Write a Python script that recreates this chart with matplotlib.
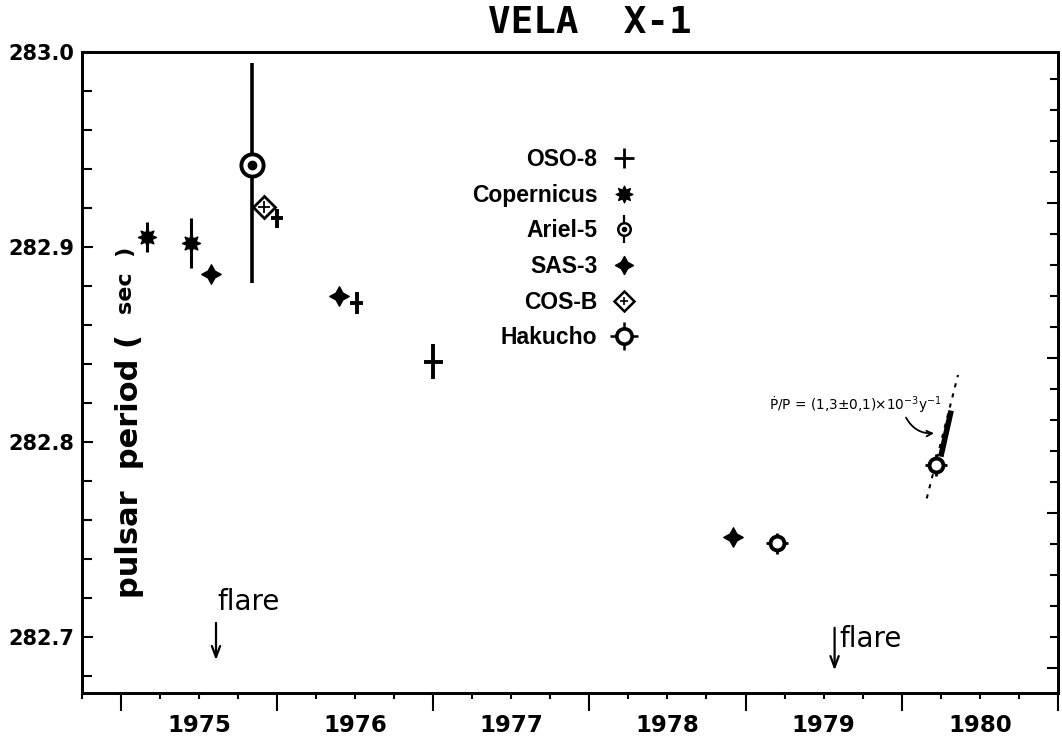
import numpy as np
import matplotlib.pyplot as plt
from matplotlib.lines import Line2D
from matplotlib.path import Path
from matplotlib.ticker import MultipleLocator

# --- data: epoch (yr) and pulse period (s) ---
oso8_t = [1976.00, 1976.51, 1977.00]
oso8_p = [282.9147, 282.8711, 282.8412]
oso8_dp = [0.0047, 0.0056, 0.0090]
oso8_dt = [0.037, 0.043, 0.061]

cop_t = [1975.17, 1975.45]
cop_p = [282.9053, 282.9019]
cop_dp = [0.0077, 0.0128]

ariel_t = [1975.84]
ariel_p = [282.9421]
ariel_lo = [0.0604]
ariel_hi = [0.0524]

sas3_t = [1975.58, 1976.40, 1978.92]
sas3_p = [282.8862, 282.8749, 282.7511]

cosb_t = [1975.92]
cosb_p = [282.9207]

hak_t = [1979.20, 1980.22]
hak_p = [282.7480, 282.7882]
hak_dp = [0.0056, 0.0056]
hak_dt = [0.07, 0.07]

# local spin-down, Pdot/P = 1.3e-3 /yr
slope_t = [1980.25, 1980.316]
slope_p = [282.7925, 282.8161]
range_t = [1980.16, 1980.36]
range_p = [282.7711, 282.8344]

flare_t = [1975.61, 1979.57]
flare_top = [282.7087, 282.7062]
flare_bot = [282.6867, 282.6815]

years = [1975, 1976, 1977, 1978, 1979, 1980]
labels = ['OSO-8', 'Copernicus', 'Ariel-5', 'SAS-3', 'COS-B', 'Hakucho']


def star_path(n, inner):
    ang = np.deg2rad(np.arange(2 * n) * 180.0 / n + 90)
    r = np.tile([1.0, inner], n)
    v = np.column_stack([r * np.cos(ang), r * np.sin(ang)])
    return Path(np.vstack([v, v[:1]]), closed=True)


sas_mk = star_path(4, 0.5)
cop_mk = star_path(8, 0.55)

fig = plt.figure(figsize=(10.62, 7.44), dpi=100)
ax = fig.add_axes([0.0769, 0.0685, 0.9193, 0.8616])
ax.set_xlim(1974.755, 1981.0)
ax.set_ylim(282.6713, 283.0)

k = 'black'
ax.errorbar(oso8_t, oso8_p, yerr=oso8_dp, xerr=oso8_dt, fmt='none',
            ecolor=k, elinewidth=2.8, capsize=0)
ax.errorbar(cop_t, cop_p, yerr=cop_dp, fmt='none', ecolor=k, elinewidth=2.2)
ax.plot(cop_t, cop_p, ls='none', marker=cop_mk, ms=13, color=k)
ax.errorbar(ariel_t, ariel_p, yerr=[ariel_lo, ariel_hi], fmt='none',
            ecolor=k, elinewidth=2.6)
ax.plot(ariel_t, ariel_p, ls='none', marker='o', ms=16, mfc='white', mec=k, mew=2.8)
ax.plot(ariel_t, ariel_p, ls='none', marker='o', ms=6, color=k)
ax.plot(sas3_t, sas3_p, ls='none', marker=sas_mk, ms=14, color=k)
ax.plot(cosb_t, cosb_p, ls='none', marker='D', ms=11, mfc='white', mec=k, mew=2)
ax.plot(cosb_t, cosb_p, ls='none', marker='+', ms=8, mec=k, mew=1.3)
ax.errorbar(hak_t, hak_p, yerr=hak_dp, xerr=hak_dt, fmt='none', ecolor=k, elinewidth=2)
ax.plot(hak_t, hak_p, ls='none', marker='o', ms=10, mfc='white', mec=k, mew=2.8, zorder=4)
ax.plot(slope_t, slope_p, color=k, lw=4, solid_capstyle='butt')
ax.plot(range_t, range_p, color=k, lw=1.5, ls=(0, (2, 3)))

ax.text(1979.70, 282.819, 'Ṗ/P = (1,3±0,1)×10$^{-3}$y$^{-1}$', ha='center',
        va='center', fontsize=9.8)
ax.annotate('', xy=(1980.224, 282.8046), xytext=(1980.019, 282.8138),
            arrowprops=dict(arrowstyle='->', lw=1.3, color=k,
                            connectionstyle='arc3,rad=0.35'))

for t, y0, y1 in zip(flare_t, flare_top, flare_bot):
    ax.annotate('', xy=(t, y1), xytext=(t, y0),
                arrowprops=dict(arrowstyle='->,head_length=0.8,head_width=0.3',
                                lw=1.6, color=k))
ax.text(flare_t[0] + 0.01, flare_top[0] + 0.0095, 'flare', fontsize=20,
        ha='left', va='center')
ax.text(flare_t[1] + 0.03, flare_top[1] - 0.0072, 'flare', fontsize=20,
        ha='left', va='center')

# in-axes y label
ax.text(0.0495, 0.148, 'pulsar  period (', transform=ax.transAxes, rotation=90,
        ha='center', va='bottom', fontsize=22, fontweight='bold')
ax.text(0.045, 0.591, 'sec  )', transform=ax.transAxes, rotation=90,
        ha='center', va='bottom', fontsize=16, fontweight='bold')

# legend: labels left, symbols right
handles = [
    Line2D([], [], ls='none', marker='+', ms=14, mew=2, color=k),
    Line2D([], [], ls='none', marker=cop_mk, ms=12, color=k),
    (Line2D([], [], ls='none', marker='|', ms=20, mew=1.6, color=k),
     Line2D([], [], ls='none', marker='o', ms=9, mfc='white', mec=k, mew=1.8),
     Line2D([], [], ls='none', marker='o', ms=3, color=k)),
    Line2D([], [], ls='none', marker=sas_mk, ms=13, color=k),
    (Line2D([], [], ls='none', marker='D', ms=10, mfc='white', mec=k, mew=1.8),
     Line2D([], [], ls='none', marker='+', ms=6, mec=k, mew=1.2)),
    (Line2D([], [], ls='none', marker='+', ms=20, mew=1.8, color=k),
     Line2D([], [], ls='none', marker='o', ms=11, mfc='white', mec=k, mew=2.6)),
]
ax.legend(handles, labels, loc='center', bbox_to_anchor=(0.485, 0.693),
          markerfirst=False, frameon=False, labelspacing=0.55,
          handlelength=1.3, handletextpad=0.5, borderpad=0,
          prop=dict(family='Liberation Sans', weight='bold', size=16.5))

# axes styling
for s in ax.spines.values():
    s.set_linewidth(2)
ax.set_yticks([282.7, 282.8, 282.9, 283.0],
              labels=['282.7', '282.8', '282.9', '283.0'],
              fontsize=15, fontweight='bold')
ax.yaxis.set_minor_locator(MultipleLocator(0.02))
ax.tick_params(axis='y', which='major', direction='in', length=8, width=1.5, pad=5)
ax.tick_params(axis='y', which='minor', direction='in', length=7, width=1.5)

ax.set_xticks(years + [1981])
ax.set_xticklabels([])
quarters = np.arange(1974.75, 1981.01, 0.25)
qlabels = [str(int(q)) if abs(q - int(q) - 0.5) < 1e-6 else '' for q in quarters]
ax.set_xticks(quarters, labels=qlabels, minor=True, fontsize=16.5, fontweight='bold')
ax.tick_params(axis='x', which='major', direction='out', length=13, width=1.5)
ax.tick_params(axis='x', which='minor', direction='out', length=4, width=1.5, pad=11)

# right-hand scale ticks (unlabelled)
ax2 = ax.twinx()
ax2.set_ylim(-5.8, 14.88)
ax2.yaxis.set_major_locator(MultipleLocator(5))
ax2.yaxis.set_minor_locator(MultipleLocator(1))
ax2.tick_params(which='both', direction='in', labelright=False, width=1.5)
ax2.tick_params(which='major', length=8)
ax2.tick_params(which='minor', length=6)
for s in ax2.spines.values():
    s.set_linewidth(2)

fig.text(590 / 1062, 1 - 23 / 744, 'VELA  X-1', ha='center', va='center',
         fontsize=27, fontweight='bold', family='DejaVu Sans Mono')

fig.savefig('out.png', dpi=100)
